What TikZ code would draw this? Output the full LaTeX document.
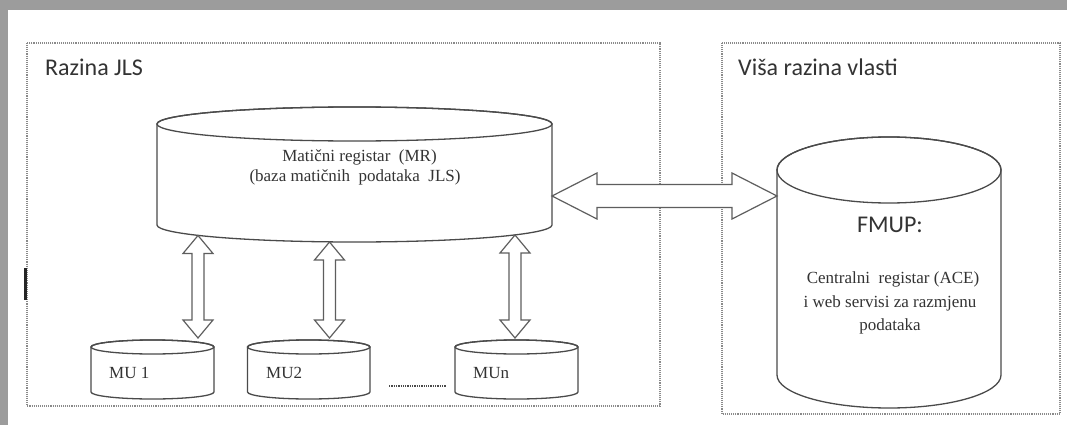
\documentclass[tikz,border=0pt]{standalone}
\usepackage{fontspec}
\setmainfont{Liberation Serif}
\newfontfamily\sansf{Carlito}
\usetikzlibrary{calc}
\definecolor{edge}{HTML}{4A4A4A}
\definecolor{arredge}{HTML}{5E5E5E}
\definecolor{dotc}{HTML}{8A8A8A}
\definecolor{txt}{HTML}{333333}
\definecolor{shadowc}{HTML}{9C9C9C}
\tikzset{
  cyl/.style={draw=edge, line width=1.3pt, fill=white},
  zone/.style={draw=dotc, line width=1.1pt, densely dotted},
  dblarr/.style={draw=arredge, line width=1.2pt, fill=white, line join=miter},
  serif/.style={font=\fontsize{17}{20}\selectfont, text=txt, inner sep=0pt},
  title/.style={font=\sansf\fontsize{24}{28}\selectfont, text=black!80, inner sep=0pt},
}
% cylinder: centre x, top ellipse y, bottom ellipse y, x radius, y radius
\newcommand\dbcyl[5]{%
  \filldraw[cyl] ({#1-#4},#2) -- ({#1-#4},#3)
     arc[start angle=180,end angle=0,x radius=#4,y radius=#5]
     -- ({#1+#4},#2)
     arc[start angle=0,end angle=-180,x radius=#4,y radius=#5] -- cycle;
  \draw[cyl, fill=none] (#1,#2) ellipse[x radius=#4,y radius=#5];}
% vertical double arrow between two named coordinates (top, bottom)
\newcommand\vdbl[2]{%
  \draw[dblarr] (#1) -- ++(15,18) -- ++(-9,0) -- ($(#2)+(6,-18)$) -- ++(9,0)
    -- (#2) -- ++(-15,-18) -- ++(9,0) -- ($(#1)+(-6,18)$) -- ++(-9,0) -- cycle;}
% horizontal double arrow between two named coordinates (left, right)
\newcommand\hdbl[2]{%
  \draw[dblarr] (#1) -- ++(45,-23) -- ++(0,11.5) -- ($(#2)+(-45,-11.5)$) -- ++(0,-11.5)
    -- (#2) -- ++(-45,23) -- ++(0,-11.5) -- ($(#1)+(45,11.5)$) -- ++(0,11.5) -- cycle;}
\begin{document}
\begin{tikzpicture}[x=1pt,y=-1pt]
\useasboundingbox (0,0) rectangle (1067,425);
\fill[white] (0,0) rectangle (1067,425);
\fill[shadowc] (0,0) rectangle (1067,10);
\fill[shadowc] (0,0) rectangle (8,425);

% zones
\draw[zone] (27,43) rectangle (660,406);
\draw[zone] (722,43) rectangle (1060,414);
\node[title, anchor=base west] (tjls) at (45,76) {Razina JLS};
\node[title, anchor=base west] (tvl) at (738,76) {Viša razina vlasti};

% cylinders
\dbcyl{354.5}{124}{225}{197.5}{17}
\dbcyl{889}{170}{375}{112}{33}
\dbcyl{152.5}{347}{392}{61.5}{7}
\dbcyl{308.75}{347}{392}{61.25}{7}
\dbcyl{516.5}{347}{392}{61.5}{7}

% texts
\node[serif, anchor=base] (mr1) at (359.5,161) {Matični registar~ (MR)};
\node[serif, anchor=base] (mr2) at (355,181) {(baza matičnih~ podataka~ JLS)};
\node[title, anchor=base] (fm0) at (890,232) {FMUP:};
\node[serif, anchor=base] (fm1) at (893,283) {Centralni~ registar (ACE)};
\node[serif, anchor=base] (fm2) at (890,307) {i web servisi za razmjenu};
\node[serif, anchor=base] (fm3) at (890,330) {podataka};
\node[serif, anchor=base west] (mu1) at (109,378) {MU 1};
\node[serif, anchor=base west] (mu2) at (266,378) {MU2};
\node[serif, anchor=base west] (mun) at (473,378) {MUn};

% connector end points
\coordinate (hl) at (552,196);
\coordinate (hr) at (777,196);
\coordinate (v1t) at (198,235.5);
\coordinate (v1b) at (198,338);
\coordinate (v2t) at (329.5,242);
\coordinate (v2b) at (329.5,338);
\coordinate (v3t) at (515,235);
\coordinate (v3b) at (515,338);
\coordinate (d1) at (389,386);
\coordinate (d2) at (446,386);
\coordinate (cur1) at (25,268);
\coordinate (cur2) at (25,300);

\hdbl{hl}{hr}
\vdbl{v1t}{v1b}
\vdbl{v2t}{v2b}
\vdbl{v3t}{v3b}

\draw[draw=edge, line width=1.3pt, densely dotted] (d1) -- (d2);
\draw[line width=3pt, black!85] (cur1) -- (cur2);
\end{tikzpicture}
\end{document}
